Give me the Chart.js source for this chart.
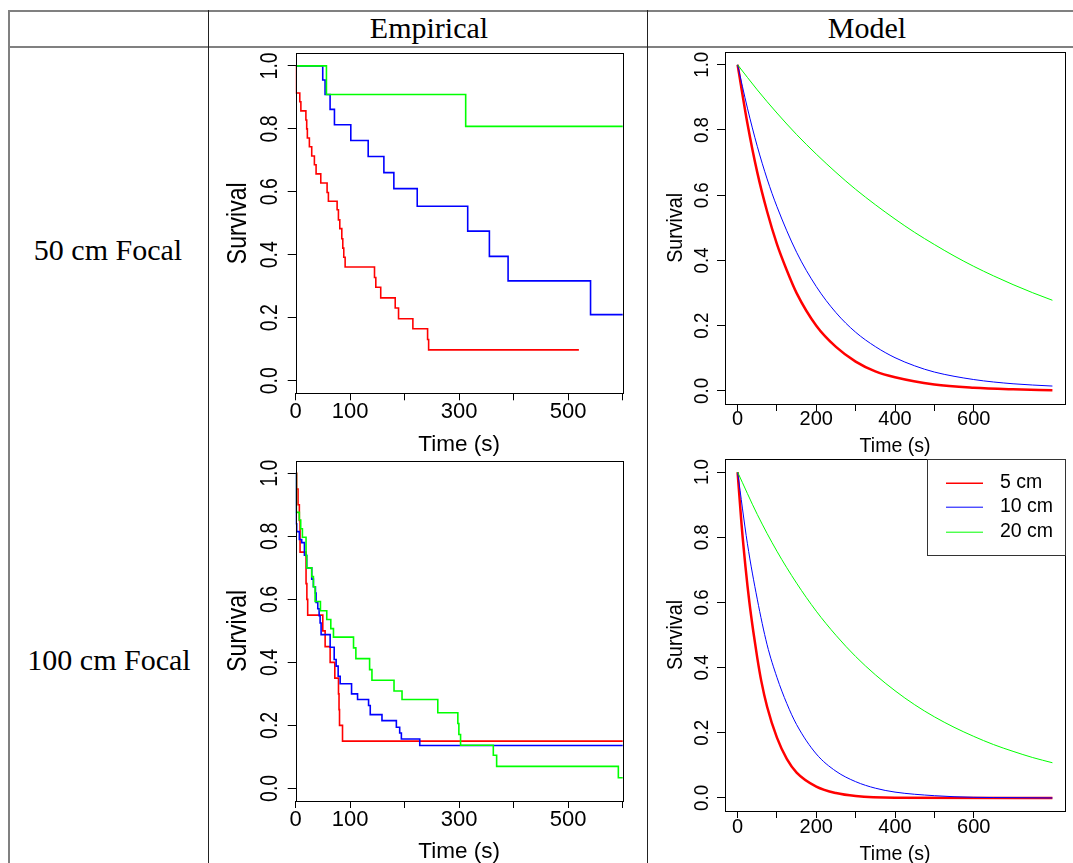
<!DOCTYPE html>
<html>
<head>
<meta charset="utf-8">
<title>Survival curves</title>
<script src="https://cdn.jsdelivr.net/npm/chart.js@4.4.0/dist/chart.umd.min.js"></script>
<style>
  html, body { margin: 0; padding: 0; background: #fff; }
  #page { position: relative; width: 1073px; height: 863px; overflow: hidden; font-family: "Liberation Serif", serif; }
  .hline { position: absolute; height: 2px; background: #808080; }
  .vline { position: absolute; width: 1px; background: #222; }
  .cell { position: absolute; font-size: 30px; transform: translate(-50%, -50%); white-space: nowrap; color: #000; }
  canvas { position: absolute; }
</style>
</head>
<body>
<div id="page">
  <div class="hline" style="left:8px; top:10px; width:1065px;"></div>
  <div class="hline" style="left:8px; top:46px; width:1065px;"></div>
  <div class="vline" style="left:8px; top:10px; height:853px; width:2px; background:#808080;"></div>
  <div class="vline" style="left:208px; top:10px; height:853px;"></div>
  <div class="vline" style="left:647px; top:10px; height:853px;"></div>

  <div class="cell" style="left:429px; top:28px;">Empirical</div>
  <div class="cell" style="left:867px; top:28px;">Model</div>
  <div class="cell" style="left:108px; top:250px;">50 cm Focal</div>
  <div class="cell" style="left:109px; top:660px;">100 cm Focal</div>

  <canvas id="emp50" width="434" height="410" style="left:212px; top:48px;"></canvas>
  <canvas id="mod50" width="423" height="410" style="left:650px; top:48px;"></canvas>
  <canvas id="emp100" width="434" height="411" style="left:212px; top:452px;"></canvas>
  <canvas id="mod100" width="423" height="411" style="left:650px; top:452px;"></canvas>
</div>

<script>
// axis ticks
const yTicks = [0, 0.2, 0.4, 0.6, 0.8, 1.0];
const yTickLabels = ['0.0', '0.2', '0.4', '0.6', '0.8', '1.0'];
const empXTicks = [0, 100, 200, 300, 400, 500, 600];
const empXLabels = ['0', '100', '', '300', '', '500', ''];
const modXTicks = [0, 100, 200, 300, 400, 500, 600];
const modXLabels = ['0', '', '200', '', '400', '', '600'];

const legendLabels = ['5 cm', '10 cm', '20 cm'];
const lineColors = ['#ff0000', '#0000ff', '#00ff00'];

// Kaplan-Meier estimates, 50 cm focal
const emp50Time5 = [0, 0.6, 7.5, 9.5, 18.7, 20.2, 21.4, 25.1, 29.4, 34.3, 37.4, 46, 57.6, 60, 76, 78.4, 80.9, 84.6, 86.4, 88.2, 90.7, 144.6, 147, 156, 182.6, 188.7, 215, 242, 243.9, 519.6];
const emp50Surv5 = [1, 0.914, 0.886, 0.857, 0.828, 0.80, 0.771, 0.743, 0.714, 0.686, 0.657, 0.628, 0.598, 0.570, 0.543, 0.511, 0.483, 0.451, 0.421, 0.392, 0.361, 0.328, 0.297, 0.263, 0.231, 0.197, 0.165, 0.131, 0.098, 0.098];
const emp50Time10 = [0, 49.6, 53.9, 63.1, 71.1, 101.1, 133, 161.8, 180.1, 223, 315.6, 355.4, 389.7, 541, 601];
const emp50Surv10 = [1, 0.955, 0.909, 0.862, 0.813, 0.763, 0.712, 0.661, 0.61, 0.554, 0.475, 0.395, 0.317, 0.21, 0.21];
const emp50Time20 = [0, 56.4, 311.9, 601];
const emp50Surv20 = [1, 0.909, 0.808, 0.808];

// Kaplan-Meier estimates, 100 cm focal
const emp100Time5 = [0, 1.8, 4.3, 6.7, 8, 19, 20.5, 22, 49.7, 54, 63.2, 71.8, 78.5, 79.5, 80.4, 85.9, 601];
const emp100Surv5 = [1, 0.95, 0.90, 0.85, 0.75, 0.65, 0.60, 0.55, 0.50, 0.45, 0.40, 0.35, 0.30, 0.25, 0.20, 0.15, 0.15];
const emp100Time10 = [0, 0.3, 1.8, 6.7, 11, 16, 20.2, 29.4, 32.5, 36.2, 37.4, 40.5, 43, 44.8, 46.6, 63.2, 70.6, 74.2, 77.9, 81.6, 102.5, 113.5, 133.7, 136.8, 158.3, 184.7, 190.8, 193.9, 227.6, 601];
const emp100Surv10 = [1, 0.84, 0.815, 0.79, 0.78, 0.74, 0.70, 0.664, 0.64, 0.62, 0.59, 0.57, 0.548, 0.525, 0.488, 0.448, 0.409, 0.388, 0.356, 0.332, 0.30, 0.282, 0.263, 0.234, 0.215, 0.194, 0.176, 0.157, 0.136, 0.136];
const emp100Time20 = [0, 1.2, 6.7, 9.2, 12.3, 19, 20.2, 29.4, 32.5, 35.6, 45.4, 57, 64.4, 69.3, 106.1, 110.4, 135.6, 139.9, 180.4, 195.1, 260.7, 297.5, 299.4, 302.5, 362.6, 368.7, 592, 601];
const emp100Surv20 = [1, 0.876, 0.852, 0.824, 0.797, 0.738, 0.70, 0.672, 0.64, 0.593, 0.564, 0.536, 0.507, 0.48, 0.446, 0.412, 0.377, 0.343, 0.309, 0.282, 0.24, 0.206, 0.171, 0.137, 0.105, 0.07, 0.034, 0.034];

// fitted model curves, 50 cm focal
const mod50Time5 = [0, 25, 50, 75, 100, 125, 150, 200, 250, 300, 350, 400, 500, 600, 700, 800];
const mod50Surv5 = [1, 0.82, 0.67, 0.55, 0.45, 0.37, 0.30, 0.20, 0.135, 0.09, 0.06, 0.042, 0.02, 0.01, 0.005, 0.002];
const mod50Time10 = [0, 25, 50, 75, 100, 150, 200, 250, 300, 350, 400, 450, 500, 600, 700, 800];
const mod50Surv10 = [1, 0.867, 0.75, 0.65, 0.565, 0.425, 0.32, 0.24, 0.18, 0.136, 0.102, 0.077, 0.058, 0.035, 0.022, 0.015];
const mod50Time20 = [0, 50, 100, 150, 200, 250, 300, 350, 400, 450, 500, 550, 600, 650, 700, 750, 800];
const mod50Surv20 = [1, 0.923, 0.852, 0.786, 0.726, 0.670, 0.618, 0.571, 0.527, 0.486, 0.449, 0.414, 0.382, 0.353, 0.326, 0.301, 0.278];

// fitted model curves, 100 cm focal
const mod100Time5 = [0, 10, 20, 30, 40, 50, 60, 75, 100, 125, 150, 200, 250, 300, 400, 800];
const mod100Surv5 = [1, 0.84, 0.71, 0.60, 0.51, 0.43, 0.36, 0.28, 0.185, 0.12, 0.078, 0.035, 0.015, 0.006, 0.001, 0];
const mod100Time10 = [0, 25, 50, 75, 100, 125, 150, 200, 250, 300, 350, 400, 500, 600, 700, 800];
const mod100Surv10 = [1, 0.78, 0.61, 0.47, 0.37, 0.29, 0.225, 0.135, 0.082, 0.05, 0.03, 0.018, 0.007, 0.002, 0.001, 0];
const mod100Time20 = [0, 50, 100, 150, 200, 250, 300, 350, 400, 450, 500, 550, 600, 650, 700, 750, 800];
const mod100Surv20 = [1, 0.87, 0.757, 0.659, 0.573, 0.499, 0.434, 0.378, 0.329, 0.286, 0.249, 0.217, 0.189, 0.164, 0.143, 0.124, 0.108];

const FONT = '"Liberation Sans", Arial, sans-serif';

// text helper: sx stretches glyphs horizontally, like the base-graphics output
function drawText(ctx, text, x, y, size, angle, sx, align) {
    ctx.save();
    ctx.translate(x, y);
    ctx.scale(sx, 1);
    ctx.rotate(angle);
    ctx.font = size + 'px ' + FONT;
    ctx.fillStyle = '#000';
    ctx.textAlign = align || 'center';
    ctx.textBaseline = 'middle';
    ctx.fillText(text, 0, 0);
    ctx.restore();
}

function buildChart(id, o) {
    const canvas = document.getElementById(id);
    const w = canvas.width, h = canvas.height;
    const a = o.area;

    // box, tick labels, axis titles and optional legend, drawn base-R style
    const rAxes = {
        id: 'rAxes',
        afterDraw(chart) {
            const ctx = chart.ctx;
            const ca = chart.chartArea;
            const xs = chart.scales.x, ys = chart.scales.y;
            const t = o.text;
            ctx.save();
            ctx.strokeStyle = '#000';
            ctx.lineWidth = 1;
            ctx.strokeRect(Math.round(ca.left) + 0.5, Math.round(ca.top) + 0.5,
                Math.round(ca.right - ca.left), Math.round(ca.bottom - ca.top));
            ctx.restore();

            o.xTicks.forEach((v, i) => {
                if (o.xLabels[i]) drawText(ctx, o.xLabels[i], xs.getPixelForValue(v), ca.bottom + t.xTickDy, t.xTickSize, 0, 1);
            });
            yTicks.forEach((v, i) => {
                drawText(ctx, yTickLabels[i], ca.left - t.yTickDx, ys.getPixelForValue(v), t.yTickSize, -Math.PI / 2, t.ySx);
            });
            drawText(ctx, 'Time (s)', (ca.left + ca.right) / 2, ca.bottom + t.xTitleDy, t.xTitleSize, 0, 1);
            drawText(ctx, 'Survival', ca.left - t.yTitleDx, (ca.top + ca.bottom) / 2, t.yTitleSize, -Math.PI / 2, t.ySx);

            if (o.legend) {
                const L = o.legend;
                ctx.save();
                ctx.fillStyle = '#fff';
                ctx.fillRect(L.left, ca.top, ca.right - L.left, L.bottom - ca.top);
                ctx.strokeStyle = '#333';
                ctx.lineWidth = 1;
                ctx.strokeRect(Math.round(L.left) + 0.5, Math.round(ca.top) + 0.5,
                    Math.round(ca.right - L.left), Math.round(L.bottom - ca.top));
                legendLabels.forEach((lab, i) => {
                    const yy = L.rows[i];
                    ctx.strokeStyle = lineColors[i];
                    ctx.lineWidth = i === 0 ? 1.5 : 1;
                    ctx.beginPath();
                    ctx.moveTo(L.lineX0, yy + 0.5);
                    ctx.lineTo(L.lineX1, yy + 0.5);
                    ctx.stroke();
                    drawText(ctx, lab, L.textX, yy, 19.5, 0, 1, 'left');
                });
                ctx.restore();
            }
        }
    };

    return new Chart(canvas.getContext('2d'), {
        type: 'line',
        data: {
            datasets: o.series.map((s, i) => ({
                label: legendLabels[i],
                data: s.time.map((tm, k) => ({ x: tm, y: s.surv[k] })),
                borderColor: lineColors[i],
                borderWidth: s.width,
                stepped: o.stepped ? 'before' : false,
                cubicInterpolationMode: 'monotone',
                pointRadius: 0,
                fill: false,
                order: 2 - i
            }))
        },
        options: {
            responsive: false,
            animation: false,
            events: [],
            layout: { padding: { top: a.top, right: w - a.right, left: 0, bottom: 0 } },
            plugins: { legend: { display: false }, tooltip: { enabled: false } },
            scales: {
                x: {
                    type: 'linear', min: o.xMin, max: o.xMax,
                    afterBuildTicks: s => { s.ticks = o.xTicks.map(v => ({ value: v })); },
                    afterFit: s => { s.height = h - a.bottom; },
                    ticks: { display: false, autoSkip: false },
                    grid: { drawOnChartArea: false, drawTicks: true, tickLength: 7, color: '#000', lineWidth: 1 },
                    border: { display: false }
                },
                y: {
                    type: 'linear', min: -0.04, max: 1.04,
                    afterBuildTicks: s => { s.ticks = yTicks.map(v => ({ value: v })); },
                    afterFit: s => { s.width = a.left; },
                    ticks: { display: false, autoSkip: false },
                    grid: { drawOnChartArea: false, drawTicks: true, tickLength: 8, color: '#000', lineWidth: 1 },
                    border: { display: false }
                }
            }
        },
        plugins: [rAxes]
    });
}

const empText = { xTickDy: 18.5, xTitleDy: 51.5, yTickDx: 25, yTitleDx: 57.5, xTickSize: 22, xTitleSize: 22.5, yTickSize: 19.5, yTitleSize: 23, ySx: 1.18 };
const modText = { xTickDy: 15.5, xTitleDy: 43, yTickDx: 22.7, yTitleDx: 49, xTickSize: 20, xTitleSize: 19.5, yTickSize: 18.7, yTitleSize: 19.7, ySx: 1.1 };

buildChart('emp50', {
    area: { left: 83.7, top: 5.3, right: 410.7, bottom: 345.3 },
    xMin: 0, xMax: 600, xTicks: empXTicks, xLabels: empXLabels, stepped: true, text: empText,
    series: [
        { time: emp50Time5, surv: emp50Surv5, width: 1.6 },
        { time: emp50Time10, surv: emp50Surv10, width: 1.6 },
        { time: emp50Time20, surv: emp50Surv20, width: 1.6 }
    ]
});

buildChart('emp100', {
    area: { left: 83.7, top: 8.7, right: 410.7, bottom: 349 },
    xMin: 0, xMax: 600, xTicks: empXTicks, xLabels: empXLabels, stepped: true,
    text: Object.assign({}, empText, { xTickDy: 19, xTitleDy: 50.7, yTitleDx: 56.7 }),
    series: [
        { time: emp100Time5, surv: emp100Surv5, width: 1.6 },
        { time: emp100Time10, surv: emp100Surv10, width: 1.6 },
        { time: emp100Time20, surv: emp100Surv20, width: 1.6 }
    ]
});

buildChart('mod50', {
    area: { left: 75, top: 3.7, right: 415, bottom: 356 },
    xMin: -32, xMax: 832, xTicks: modXTicks, xLabels: modXLabels, stepped: false, text: modText,
    series: [
        { time: mod50Time5, surv: mod50Surv5, width: 2.5 },
        { time: mod50Time10, surv: mod50Surv10, width: 1 },
        { time: mod50Time20, surv: mod50Surv20, width: 1 }
    ]
});

buildChart('mod100', {
    area: { left: 75, top: 7, right: 415, bottom: 359 },
    xMin: -32, xMax: 832, xTicks: modXTicks, xLabels: modXLabels, stepped: false,
    text: Object.assign({}, modText, { xTickDy: 16.7, xTitleDy: 44 }),
    legend: { left: 277, bottom: 103, lineX0: 296, lineX1: 333, textX: 350, rows: [30.7, 54.7, 79.7] },
    series: [
        { time: mod100Time5, surv: mod100Surv5, width: 2.5 },
        { time: mod100Time10, surv: mod100Surv10, width: 1 },
        { time: mod100Time20, surv: mod100Surv20, width: 1 }
    ]
});
</script>
</body>
</html>
